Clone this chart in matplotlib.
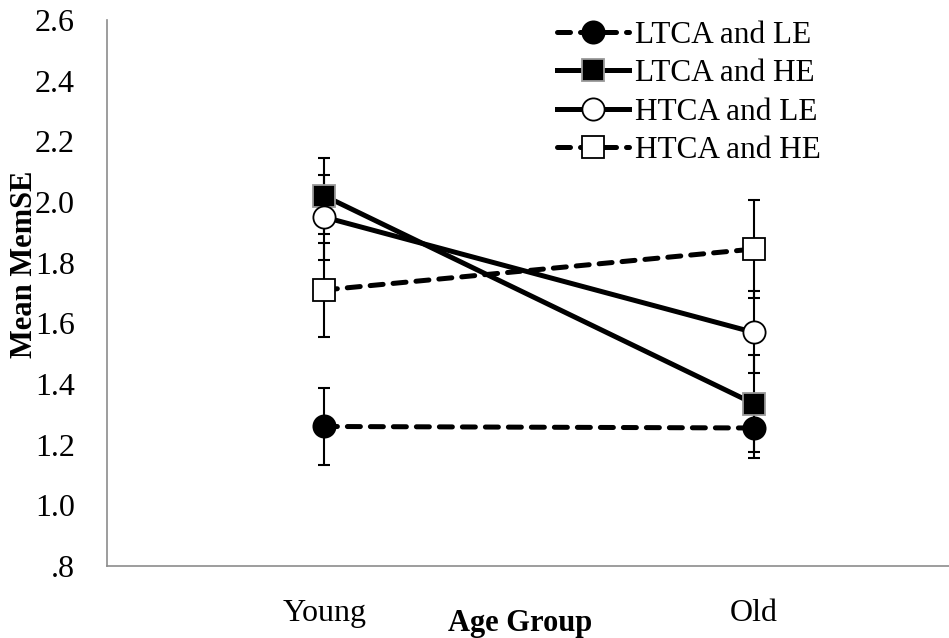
import matplotlib
matplotlib.use("Agg")
import matplotlib.pyplot as plt

# data
groups = ["Young", "Old"]
ltca_le = [1.26, 1.255]
ltca_le_err = [0.127, 0.10]
ltca_he = [2.02, 1.335]
ltca_he_err = [0.125, 0.16]
htca_le = [1.95, 1.57]
htca_le_err = [0.14, 0.135]
htca_he = [1.71, 1.845]
htca_he_err = [0.155, 0.16]

plt.rcParams["font.family"] = ["Liberation Serif", "DejaVu Serif"]

fig = plt.figure(figsize=(9.49, 6.38), dpi=100)
ax = fig.add_axes([107 / 949, 1 - 566 / 638, 1 - 107 / 949, (566 - 20) / 638])

x = [0, 1]
dash = (2.6, 2.0)
series = [
    (ltca_le, ltca_le_err, "LTCA and LE", "o", "black", "black", dash),
    (ltca_he, ltca_he_err, "LTCA and HE", "s", "black", "#999999", None),
    (htca_le, htca_le_err, "HTCA and LE", "o", "white", "black", None),
    (htca_he, htca_he_err, "HTCA and HE", "s", "white", "black", dash),
]

handles = []
for vals, errs, label, mk, fc, ec, ls in series:
    ax.errorbar(x, vals, yerr=errs, fmt="none", ecolor="black", elinewidth=1.5,
                capsize=4.5, capthick=1.5, zorder=2)
    line, = ax.plot(x, vals, color="black", lw=3.6, marker=mk, markersize=16,
                    markerfacecolor=fc, markeredgecolor=ec, markeredgewidth=1.3,
                    zorder=3, label=label, dash_capstyle="round")
    if ls is not None:
        line.set_dashes(ls)
    handles.append(line)

ax.set_ylim(0.8, 2.6)
ax.set_yticks([0.8, 1.0, 1.2, 1.4, 1.6, 1.8, 2.0, 2.2, 2.4, 2.6])
ax.set_yticklabels([".8", "1.0", "1.2", "1.4", "1.6", "1.8", "2.0", "2.2", "2.4", "2.6"])
ax.set_xlim(-0.506, 1.454)
ax.set_xticks(x)
ax.set_xticklabels(groups)
ax.tick_params(axis="both", length=0, labelsize=23)
ax.tick_params(axis="y", pad=23)
ax.tick_params(axis="x", pad=24)

for side in ["top", "right"]:
    ax.spines[side].set_visible(False)
for side in ["left", "bottom"]:
    ax.spines[side].set_color("#8c8c8c")
    ax.spines[side].set_linewidth(1.2)

ax.set_ylabel("Mean MemSE", fontsize=22, fontweight="bold")
ax.yaxis.set_label_coords(-0.081, 0.553)
fig.text(520 / 949, 1 - 624 / 638, "Age Group", fontsize=22, fontweight="bold",
         ha="center", va="center")

leg = ax.legend(handles=handles, loc="upper left", bbox_to_anchor=((529 - 107) / 842, 1.05),
                frameon=False, fontsize=22.5, handlelength=2.3, handletextpad=0.2,
                labelspacing=0.3, markerscale=1.0)

fig.savefig("out.png", dpi=100)
